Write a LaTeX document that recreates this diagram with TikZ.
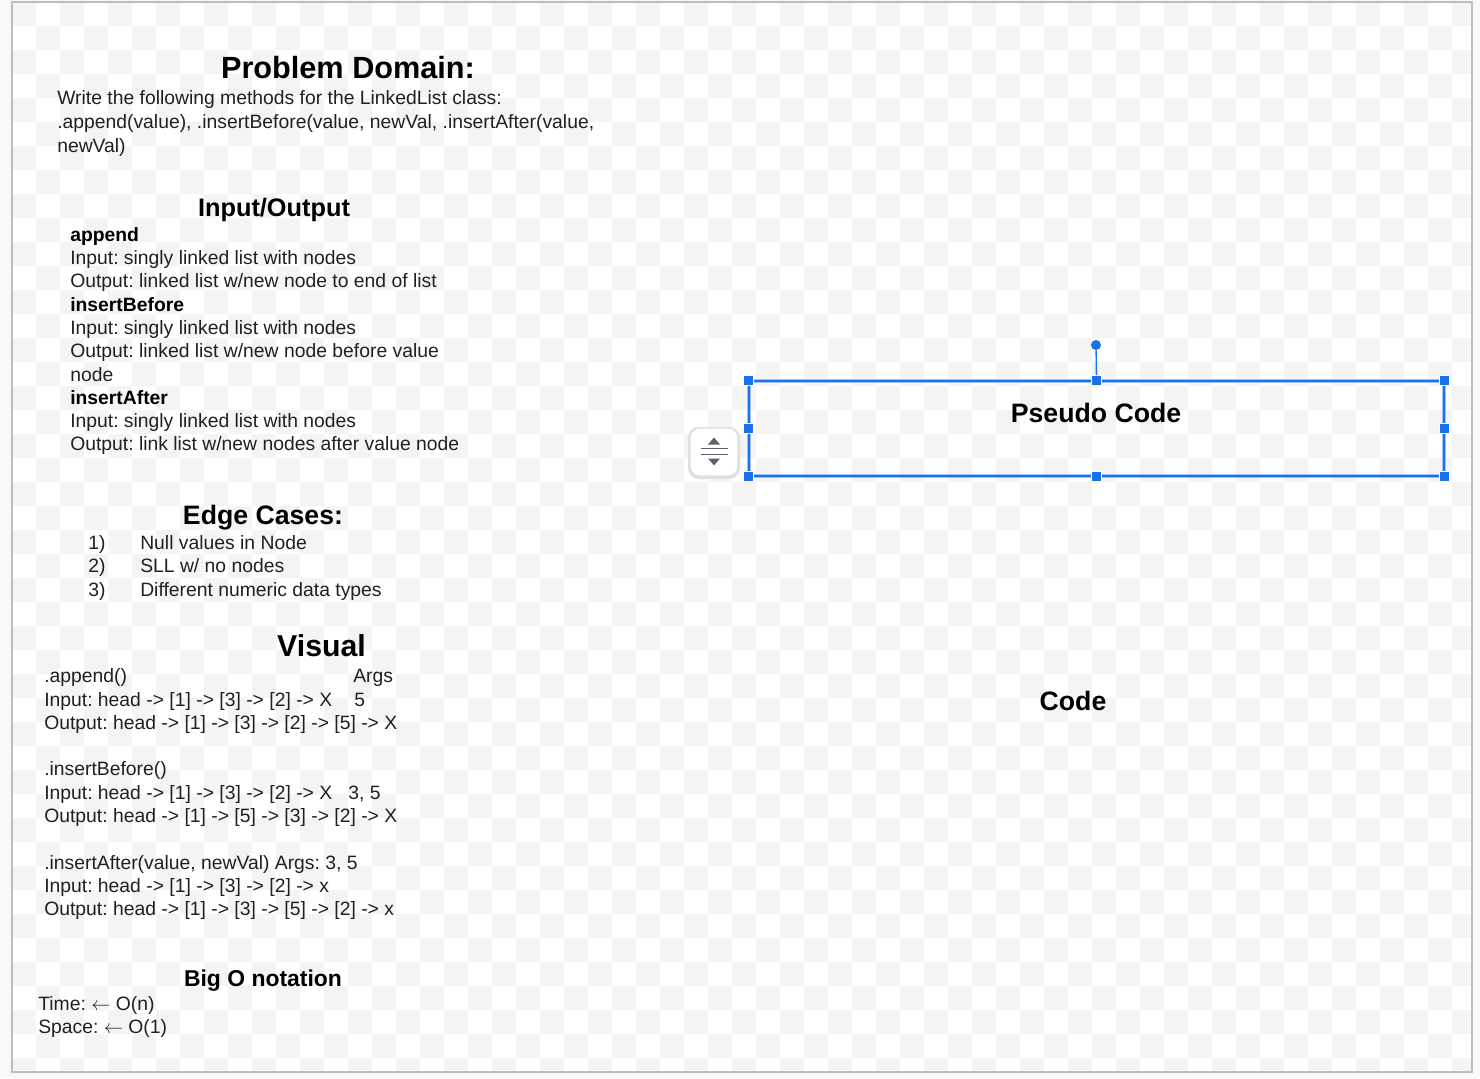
\documentclass[tikz,border=0pt]{standalone}
\usepackage{fontspec}
\setmainfont{Liberation Sans}
\frenchspacing
\definecolor{outerbg}{HTML}{F8F9FA}
\definecolor{chk}{HTML}{F4F4F4}
\definecolor{pageborder}{HTML}{BDBDBD}
\definecolor{selblue}{HTML}{1A73E8}
\definecolor{selhalo}{HTML}{9EC2F7}
\definecolor{icongray}{HTML}{5F6368}
\definecolor{bodytext}{HTML}{202020}
\begin{document}
\begin{tikzpicture}[x=0.75pt,y=-0.75pt,
  body/.style={anchor=base west,inner sep=0,text=bodytext,font=\fontsize{14.5}{17.4}\selectfont},
  bodyb/.style={body,text=black,font=\fontsize{14.5}{17.4}\selectfont\bfseries},
  head/.style={anchor=base,inner sep=0,text=black,font=\fontsize{#1}{#1}\selectfont\bfseries},
  selbox/.style={minimum width=521.25pt,minimum height=71.25pt,inner sep=0},
  handle/.style={rectangle,fill=selblue,draw=white,line width=0.6pt,minimum size=7.5pt,inner sep=0},
  rothandle/.style={circle,fill=selblue,minimum size=7.5pt,inner sep=0},
  scrollbtn/.style={rectangle,rounded corners=7pt,fill=white,minimum size=35pt,inner sep=0}
]
% background
\fill[outerbg] (0,0) rectangle (1480,1078);
\fill[white] (12,2) rectangle (1472,1072);
\begin{scope}
\clip (12,2) rectangle (1472,1072);
\foreach \j in {0,...,44}{
  \pgfmathtruncatemacro\s{mod(\j,2)}
  \pgfmathtruncatemacro\t{\s+2}
  \foreach \i in {\s,\t,...,60}{
    \fill[chk] ({12+24*\i},{2+24*\j}) rectangle +(24,24);
  }
}
\end{scope}
\draw[pageborder,line width=0.9pt] (12,2) rectangle (1472,1072);

% Problem domain
\node[head=23] (pdh) at (348,78) {Problem Domain:};
\node[body] (pd1) at (57,104) {Write the following methods for the LinkedList class:};
\node[body] (pd2) at (57,128) {.append(value), .insertBefore(value, newVal, .insertAfter(value,};
\node[body] (pd3) at (57,152) {newVal)};

% Input/Output
\node[head=19] (ioh) at (274,216) {Input/Output};
\node[bodyb] (io1) at (70,241) {append};
\node[body] (io2) at (70,264) {Input: singly linked list with nodes};
\node[body] (io3) at (70,287) {Output: linked list w/new node to end of list};
\node[bodyb] (io4) at (70,311) {insertBefore};
\node[body] (io5) at (70,334) {Input: singly linked list with nodes};
\node[body] (io6) at (70,357) {Output: linked list w/new node before value};
\node[body] (io7) at (70,381) {node};
\node[bodyb] (io8) at (70,404) {insertAfter};
\node[body] (io9) at (70,427) {Input: singly linked list with nodes};
\node[body] (io10) at (70,450) {Output: link list w/new nodes after value node};

% Edge cases
\node[head=20] (ech) at (263,524) {Edge Cases:};
\node[body] (en1) at (88,549) {1)};
\node[body] (et1) at (140,549) {Null values in Node};
\node[body] (en2) at (88,572) {2)};
\node[body] (et2) at (140,572) {SLL w/ no nodes};
\node[body] (en3) at (88,596) {3)};
\node[body] (et3) at (140,596) {Different numeric data types};

% Visual
\node[head=22.7] (vh) at (321.5,656) {Visual};
\node[body] (v1) at (44,682) {.append()};
\node[body] (v1a) at (353,682) {Args};
\node[body] (v2) at (44,706) {Input: head -> [1] -> [3] -> [2] -> X};
\node[body] (v2a) at (354,706) {5};
\node[body] (v3) at (44,729) {Output: head -> [1] -> [3] -> [2] -> [5] -> X};
\node[body] (v4) at (44,775) {.insertBefore()};
\node[body] (v5) at (44,799) {Input: head -> [1] -> [3] -> [2] -> X};
\node[body] (v5a) at (348,799) {3, 5};
\node[body] (v6) at (44,822) {Output: head -> [1] -> [5] -> [3] -> [2] -> X};
\node[body] (v7) at (44,869) {.insertAfter(value, newVal) Args: 3, 5};
\node[body] (v8) at (44,892) {Input: head -> [1] -> [3] -> [2] -> x};
\node[body] (v9) at (44,915) {Output: head -> [1] -> [3] -> [5] -> [2] -> x};

% Big O
\node[head=17.2] (boh) at (263,986) {Big O notation};
\node[body] (bo1) at (38,1010) {Time: $\leftarrow$ O(n)};
\node[body] (bo2) at (38,1033) {Space: $\leftarrow$ O(1)};

% Pseudo code selection box
\node[selbox] (pc) at (1096.5,428.5) {};
\draw[selhalo,line width=3.2pt] (pc.north west) rectangle (pc.south east);
\draw[selblue,line width=1.2pt] (pc.north west) rectangle (pc.south east);
\node[head=20] (pct) at (1096,422) {Pseudo Code};
\node[rothandle] (rot) at (1096,345) {};
\draw[selblue,line width=1pt] (rot) -- (pc.north);
\foreach \a in {north west,north,north east,west,east,south west,south,south east}{
  \node[handle] at (pc.\a) {};
}

% scroll button
\fill[black!12,rounded corners=8pt] (688,427) rectangle (740,479);
\node[scrollbtn] (scr) at (714,452) {};
\fill[icongray] (708,444.5) -- (720,444.5) -- (714,437.5) -- cycle;
\draw[icongray,line width=1.4pt] (700.5,448.5) -- (727.5,448.5);
\draw[icongray,line width=1.4pt] (700.5,454.5) -- (727.5,454.5);
\fill[icongray] (708,458.5) -- (720,458.5) -- (714,465.5) -- cycle;

% Code
\node[head=20] (code) at (1073,710) {Code};
\end{tikzpicture}
\end{document}
